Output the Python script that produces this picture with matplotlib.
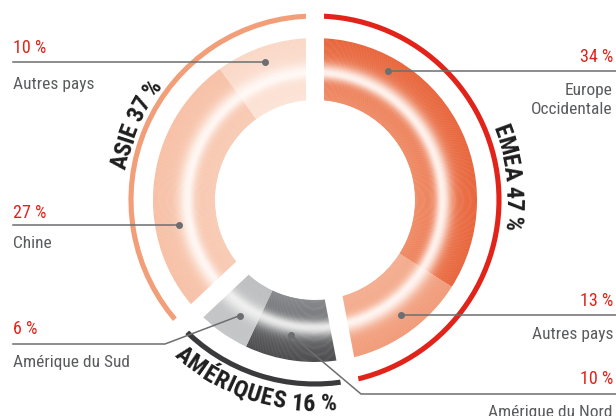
import numpy as np
import matplotlib.pyplot as plt
from matplotlib.patches import Wedge, Arc
from matplotlib.colors import to_rgb
from matplotlib import font_manager
from matplotlib.ft2font import FT2Font

# --- Données : répartition du chiffre d'affaires ---
noms = ["Europe\nOccidentale", "Autres pays", "Amérique du Nord",
        "Amérique du Sud", "Chine", "Autres pays"]
parts = [34, 13, 10, 6, 27, 10]
regions = ["EMEA", "AMÉRIQUES", "ASIE"]
parts_regions = [47, 16, 37]

# couleurs bord intérieur / bord extérieur de chaque secteur
coul_int = ["#EF8E69", "#F4B093", "#8A8B8E", "#BEBFC1", "#F8CCB6", "#FCE4D8"]
coul_ext = ["#E8673E", "#F19C7A", "#4E4E51", "#C5C6C8", "#F7C1A7", "#FAD8C7"]
coul_regions = ["#E2231A", "#3A3A3C", "#F29E78"]
ROUGE = "#E2231A"
GRIS = "#5A5B5D"
GRIS_TRAIT = "#6D6E70"

cx, cy = 315, 216
r_in, r_out = 100, 162
r_arc = 184


# police étroite si disponible, sinon la plus étroite des polices installées
def police(gras):
    noms_pref = ["Liberation Sans Narrow", "Roboto Condensed", "Noto Sans Condensed",
                 "DejaVu Sans Condensed", "Open Sans Condensed"]
    poids = 700 if gras else 400

    def w(f):
        return f.weight if isinstance(f.weight, int) else font_manager.weight_dict.get(f.weight, 400)

    fl = font_manager.fontManager.ttflist
    for nom in noms_pref:
        for f in fl:
            if f.name == nom and abs(w(f) - poids) < 150 and f.style == "normal":
                return f.fname, True
    for f in fl:
        if f.name in ("DejaVu Sans", "Noto Sans", "Open Sans") and "condensed" in str(f.stretch) \
                and "semi" not in str(f.stretch) and abs(w(f) - poids) < 150 and f.style == "normal":
            return f.fname, True
    fp = font_manager.FontProperties(family="Roboto", weight="bold" if gras else "normal")
    return font_manager.findfont(fp), False


f_gras, etroit_g = police(True)
f_norm, etroit_n = police(False)

fig = plt.figure(figsize=(6.16, 4.16), dpi=100)
ax = fig.add_axes([0, 0, 1, 1])
ax.set_xlim(0, 616)
ax.set_ylim(0, 416)
ax.set_aspect("equal")
ax.axis("off")


def teinte(c1, c2, t, blanc):
    base = (1 - t) * np.array(to_rgb(c1)) + t * np.array(to_rgb(c2))
    h = 0.45
    s = 0.11 if t < h else 0.15
    w = 0.93 * np.exp(-((t - h) / s) ** 2)
    return base * (1 - w) + np.array(blanc) * w


# --- Anneau avec dégradé radial (anneaux concentriques) ---
N = 70
dr = (r_out - r_in) / N
debut = 90.0
for i, p in enumerate(parts):
    a1 = debut
    a2 = debut - 3.6 * p
    blanc = (0.95, 0.95, 0.95) if i in (2, 3) else (1.0, 0.98, 0.97)
    for k in range(N):
        t = (k + 0.5) / N
        r = r_in + (k + 1) * dr
        w = dr * 1.6 if k > 0 else dr
        ax.add_patch(Wedge((cx, cy), r, a2, a1, width=w, lw=0,
                           color=teinte(coul_int[i], coul_ext[i], t, blanc)))
    debut = a2

# --- Arcs extérieurs des régions ---
debut = 90.0
coupures = [90.0]
for reg, p, c in zip(regions, parts_regions, coul_regions):
    fin = debut - 3.6 * p
    ax.add_patch(Arc((cx, cy), 2 * r_arc, 2 * r_arc, theta1=fin, theta2=debut,
                     lw=3.7, color=c, capstyle="butt"))
    coupures.append(fin)
    debut = fin

# séparations blanches entre régions
for a in coupures[:-1]:
    ar = np.radians(a)
    ax.plot([cx, cx + 200 * np.cos(ar)], [cy, cy + 200 * np.sin(ar)],
            color="white", lw=13, solid_capstyle="butt", zorder=3)

# --- Textes courbes des régions ---
taille_reg = 17.5 if etroit_g else 15
fp_reg = font_manager.FontProperties(fname=f_gras, size=taille_reg)
ft = FT2Font(f_gras)
ft.set_size(taille_reg, 100)


def avance(ch):
    g = ft.load_char(ord(ch))
    return g.linearHoriAdvance / 65536.0


def texte_courbe(s, r_base, a_mid, dehors):
    av = np.array([avance(c) for c in s])
    pos = np.cumsum(av) - av / 2 - av.sum() / 2
    for c, p in zip(s, pos):
        if dehors:
            a = a_mid - np.degrees(p / 200.0)
            rot = a - 90
        else:
            a = a_mid + np.degrees(p / 200.0)
            rot = a + 90
        ar = np.radians(a)
        ax.text(cx + r_base * np.cos(ar), cy + r_base * np.sin(ar), c,
                rotation=rot, rotation_mode="anchor", ha="center",
                va="baseline", fontproperties=fp_reg, color="#1E1E1E", zorder=4)


texte_courbe(f"{regions[0]} {parts_regions[0]} %", 191, 6.5, True)
texte_courbe(f"{regions[1]} {parts_regions[1]} %", 211, -108, False)
texte_courbe(f"{regions[2]} {parts_regions[2]} %", 191, 157, True)

# --- Étiquettes et traits de rappel ---
fp_lab = font_manager.FontProperties(fname=f_norm, size=12.5 if etroit_n else 10.5)
fp_pct = font_manager.FontProperties(fname=f_norm, size=13 if etroit_n else 11.5)

# (côté, y pourcentage, y trait, y nom, point, coude) en pixels image
etiquettes = [
    ("d", 55, 71, 88, (388, 71), None),
    ("d", 299.5, 315, 332, (401, 315), None),
    ("d", 378, 394, 410, (291, 335), (361, 394)),
    ("g", 328, 344, 361, (240, 315.5), (165, 344)),
    ("g", 212, 225, 241.5, (179, 225), None),
    ("g", 46.5, 62, 82, (265, 62), None),
]

for (cote, yp, yl, yn, pt, coude), nom, p in zip(etiquettes, noms, parts):
    Y = lambda y: 416 - y
    if cote == "d":
        xt, ha, xbord = 613, "right", 616
    else:
        xt, ha, xbord = 13, "left", 13
    xs = [pt[0]] + ([coude[0]] if coude else []) + [xbord]
    ys = [pt[1]] + ([coude[1]] if coude else []) + [yl]
    ax.plot(xs, [Y(v) for v in ys], color=GRIS_TRAIT, lw=1.1, zorder=5)
    ax.plot(pt[0], Y(pt[1]), "o", color=GRIS_TRAIT, ms=4, zorder=5)
    ax.text(xt, Y(yp + 6.5), f"{p} %", ha=ha, va="baseline",
            fontproperties=fp_pct, color=ROUGE)
    for j, ligne in enumerate(nom.split("\n")):
        ax.text(xt, Y(yn + 6.5 + 19.5 * j), ligne, ha=ha, va="baseline",
                fontproperties=fp_lab, color=GRIS)

fig.savefig("out.png", dpi=100)
